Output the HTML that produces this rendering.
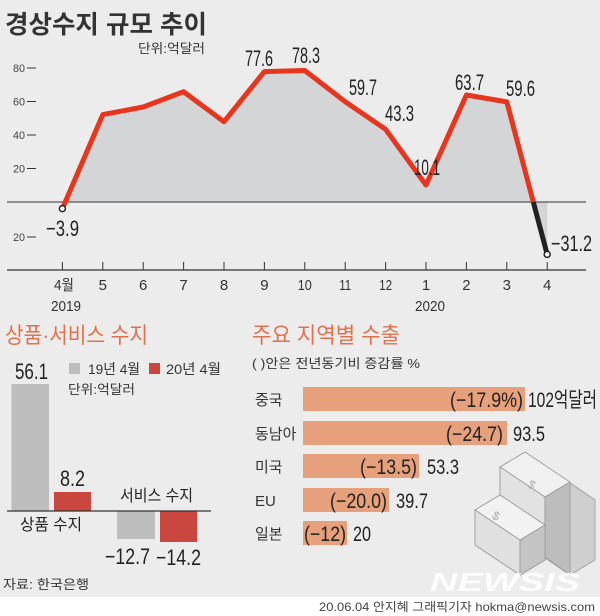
<!DOCTYPE html>
<html><head><meta charset="utf-8"><style>
html,body{margin:0;padding:0;background:#ececec}
svg{display:block}
.k{font-family:"Liberation Sans","Noto Sans CJK KR",sans-serif}
.n{font-family:"Liberation Sans Narrow","Liberation Sans","Noto Sans CJK KR",sans-serif}
</style></head><body>
<svg width="600" height="616" viewBox="0 0 600 616" xmlns="http://www.w3.org/2000/svg">
<rect width="600" height="616" fill="#ececec"/>
<rect y="597" width="600" height="19" fill="#fff"/>
<text x="5" y="33" class="k" font-size="25" fill="#333" font-weight="bold" textLength="202" lengthAdjust="spacingAndGlyphs">경상수지 규모 추이</text>
<text x="138" y="53" class="k" font-size="13" fill="#333" textLength="67" lengthAdjust="spacingAndGlyphs">단위:억달러</text>
<polygon fill="#d4d5d7" points="62.4,202 62.4,208.6 102.8,114.6 143.2,107 183.6,91.7 224,121.7 264.4,71.6 304.8,70.5 345.2,101.7 385.6,129.3 426,185 466.4,95 506.8,101.9 533.3,202 547.2,254.4 547.2,202"/>
<line x1="7" y1="202" x2="586" y2="202" stroke="#333" stroke-width="1"/>
<line x1="7" y1="270" x2="586" y2="270" stroke="#333" stroke-width="1.2"/>
<g stroke="#333" stroke-width="1">
<line x1="62.4" y1="262" x2="62.4" y2="270"/><line x1="102.8" y1="262" x2="102.8" y2="270"/><line x1="143.2" y1="262" x2="143.2" y2="270"/><line x1="183.6" y1="262" x2="183.6" y2="270"/><line x1="224" y1="262" x2="224" y2="270"/><line x1="264.4" y1="262" x2="264.4" y2="270"/><line x1="304.8" y1="262" x2="304.8" y2="270"/><line x1="345.2" y1="262" x2="345.2" y2="270"/><line x1="385.6" y1="262" x2="385.6" y2="270"/><line x1="426" y1="262" x2="426" y2="270"/><line x1="466.4" y1="262" x2="466.4" y2="270"/><line x1="506.8" y1="262" x2="506.8" y2="270"/><line x1="547.2" y1="262" x2="547.2" y2="270"/>
<line x1="27" y1="68" x2="36" y2="68"/><line x1="27" y1="101.5" x2="36" y2="101.5"/><line x1="27" y1="135" x2="36" y2="135"/><line x1="27" y1="168.5" x2="36" y2="168.5"/><line x1="27" y1="237" x2="36" y2="237"/>
</g>
<g class="n" font-size="11" fill="#444" text-anchor="end">
<text x="25" y="72" textLength="12" lengthAdjust="spacingAndGlyphs">80</text><text x="25" y="105.5" textLength="12" lengthAdjust="spacingAndGlyphs">60</text><text x="25" y="139" textLength="12" lengthAdjust="spacingAndGlyphs">40</text><text x="25" y="172.5" textLength="12" lengthAdjust="spacingAndGlyphs">20</text><text x="25" y="241" textLength="12" lengthAdjust="spacingAndGlyphs">20</text>
</g>
<polyline fill="none" stroke="#e8351e" stroke-width="5" stroke-linejoin="round" points="62.4,208.6 102.8,114.6 143.2,107 183.6,91.7 224,121.7 264.4,71.6 304.8,70.5 345.2,101.7 385.6,129.3 426,185 466.4,95 506.8,101.9 533.3,202"/>
<line x1="533.3" y1="202" x2="547.2" y2="254.4" stroke="#222" stroke-width="5"/>
<circle cx="62.4" cy="208.6" r="3" fill="#fff" stroke="#222" stroke-width="1.5"/>
<circle cx="547.2" cy="254.4" r="3" fill="#fff" stroke="#222" stroke-width="1.5"/>
<g class="n" font-size="22" fill="#222" lengthAdjust="spacingAndGlyphs">
<text x="245" y="66" textLength="28" lengthAdjust="spacingAndGlyphs">77.6</text>
<text x="292" y="63" textLength="28" lengthAdjust="spacingAndGlyphs">78.3</text>
<text x="349" y="95" textLength="28" lengthAdjust="spacingAndGlyphs">59.7</text>
<text x="385" y="121" textLength="29" lengthAdjust="spacingAndGlyphs">43.3</text>
<text x="414" y="175" textLength="26" lengthAdjust="spacingAndGlyphs">10.1</text>
<text x="455" y="90" textLength="29" lengthAdjust="spacingAndGlyphs">63.7</text>
<text x="506" y="96" textLength="29" lengthAdjust="spacingAndGlyphs">59.6</text>
<text x="46" y="236" textLength="33" lengthAdjust="spacingAndGlyphs">−3.9</text>
<text x="551" y="251" textLength="41" lengthAdjust="spacingAndGlyphs">−31.2</text>
</g>
<g class="n" font-size="15" fill="#333" text-anchor="middle">
<text x="64" y="290" textLength="20" lengthAdjust="spacingAndGlyphs">4월</text><text x="102.8" y="290">5</text><text x="143.2" y="290">6</text><text x="183.6" y="290">7</text><text x="224" y="290">8</text><text x="264.4" y="290">9</text><text x="304.8" y="290" textLength="14" lengthAdjust="spacingAndGlyphs">10</text><text x="345.2" y="290" textLength="12" lengthAdjust="spacingAndGlyphs">11</text><text x="385.6" y="290" textLength="13" lengthAdjust="spacingAndGlyphs">12</text><text x="426" y="290">1</text><text x="466.4" y="290">2</text><text x="506.8" y="290">3</text><text x="547.2" y="290">4</text>
<text x="66" y="311" textLength="30" lengthAdjust="spacingAndGlyphs">2019</text><text x="430" y="311" textLength="30" lengthAdjust="spacingAndGlyphs">2020</text>
</g>
<text x="5" y="343" class="k" font-size="22" fill="#e0714d" textLength="143" lengthAdjust="spacingAndGlyphs">상품·서비스 수지</text>
<rect x="11.5" y="384" width="37.5" height="127" fill="#bdbdbd"/>
<rect x="54" y="492" width="37" height="19" fill="#c9473f"/>
<rect x="117" y="511" width="38" height="28" fill="#bdbdbd"/>
<rect x="160" y="511" width="37" height="31" fill="#c9473f"/>
<line x1="7" y1="511" x2="211" y2="511" stroke="#333" stroke-width="1.2"/>
<g class="n" font-size="22" fill="#222">
<text x="15" y="379" textLength="33" lengthAdjust="spacingAndGlyphs">56.1</text>
<text x="60" y="486" textLength="25" lengthAdjust="spacingAndGlyphs">8.2</text>
<text x="105" y="564" textLength="45" lengthAdjust="spacingAndGlyphs">−12.7</text>
<text x="156" y="565" textLength="45" lengthAdjust="spacingAndGlyphs">−14.2</text>
</g>
<text x="120" y="501" class="k" font-size="16" fill="#222" textLength="73" lengthAdjust="spacingAndGlyphs">서비스 수지</text>
<text x="20" y="530" class="k" font-size="16" fill="#222" textLength="62" lengthAdjust="spacingAndGlyphs">상품 수지</text>
<rect x="69" y="363" width="11" height="11" fill="#bdbdbd"/>
<text x="88" y="374" class="k" font-size="14" fill="#333" textLength="52" lengthAdjust="spacingAndGlyphs">19년 4월</text>
<rect x="149" y="363" width="11" height="11" fill="#c9473f"/>
<text x="166" y="374" class="k" font-size="14" fill="#333" textLength="55" lengthAdjust="spacingAndGlyphs">20년 4월</text>
<text x="68" y="394" class="k" font-size="13" fill="#333" textLength="67" lengthAdjust="spacingAndGlyphs">단위:억달러</text>
<text x="3" y="589" class="k" font-size="13" fill="#333" textLength="86" lengthAdjust="spacingAndGlyphs">자료: 한국은행</text>
<text x="252" y="343" class="k" font-size="22" fill="#e0714d" textLength="148" lengthAdjust="spacingAndGlyphs">주요 지역별 수출</text>
<text x="252" y="368" class="k" font-size="13" fill="#333" textLength="168" lengthAdjust="spacingAndGlyphs">( )안은 전년동기비 증감률 %</text>
<g fill="#e6a07c">
<rect x="303" y="387" width="222" height="24"/><rect x="303" y="421" width="204" height="24"/><rect x="303" y="454" width="116" height="24"/><rect x="303" y="488" width="86" height="24"/><rect x="303" y="521" width="44" height="24"/>
</g>
<g class="k" font-size="15" fill="#333">
<text x="255" y="405">중국</text><text x="255" y="439">동남아</text><text x="255" y="472">미국</text><text x="255" y="506">EU</text><text x="255" y="539">일본</text>
</g>
<g class="n" font-size="21" fill="#222">
<text x="450" y="407" textLength="73" lengthAdjust="spacingAndGlyphs">(−17.9%)</text>
<text x="446" y="441" textLength="57" lengthAdjust="spacingAndGlyphs">(−24.7)</text>
<text x="360" y="474" textLength="57" lengthAdjust="spacingAndGlyphs">(−13.5)</text>
<text x="330" y="508" textLength="57" lengthAdjust="spacingAndGlyphs">(−20.0)</text>
<text x="304" y="541" textLength="42" lengthAdjust="spacingAndGlyphs">(−12)</text>
<text x="528" y="407" textLength="69" lengthAdjust="spacingAndGlyphs">102억달러</text>
<text x="513" y="441" textLength="32" lengthAdjust="spacingAndGlyphs">93.5</text>
<text x="427" y="474" textLength="32" lengthAdjust="spacingAndGlyphs">53.3</text>
<text x="396" y="508" textLength="32" lengthAdjust="spacingAndGlyphs">39.7</text>
<text x="353" y="541" textLength="18" lengthAdjust="spacingAndGlyphs">20</text>
</g>
<g stroke="#999" stroke-width="0.8">
<polygon points="500,467 525,452 595,500 595,560 570,575 500,527" fill="#cfcfcf"/>
<polygon points="500,467 525,452 570,482 545,497" fill="#f0f0f0"/>
<polygon points="500,467 545,497 545,557 500,527" fill="#e2e2e2"/>
<polygon points="545,497 570,482 570,575 545,557" fill="#bdbdbd"/>
<polygon points="475,510 500,495 545,525 545,560 520,575 475,545" fill="#ddd"/>
<polygon points="475,510 500,495 545,525 520,540" fill="#f2f2f2"/>
<polygon points="475,510 520,540 520,575 475,545" fill="#e0e0e0"/>
<polygon points="520,540 545,525 545,560 520,575" fill="#c4c4c4"/>
</g>
<text x="490" y="528" class="k" font-size="12" fill="#aaa" transform="rotate(30 510 525)">$</text>
<text x="528" y="488" class="k" font-size="12" fill="#aaa" transform="rotate(30 530 485)">$</text>
<text x="430" y="591" font-family="Liberation Sans" font-style="italic" font-weight="bold" font-size="26" fill="#fff" opacity="0.85" textLength="150" lengthAdjust="spacingAndGlyphs">NEWSIS</text>
<text x="595" y="611" text-anchor="end" class="k" font-size="12" fill="#444" textLength="276" lengthAdjust="spacingAndGlyphs">20.06.04 안지혜 그래픽기자 hokma@newsis.com</text>
</svg>
</body></html>
